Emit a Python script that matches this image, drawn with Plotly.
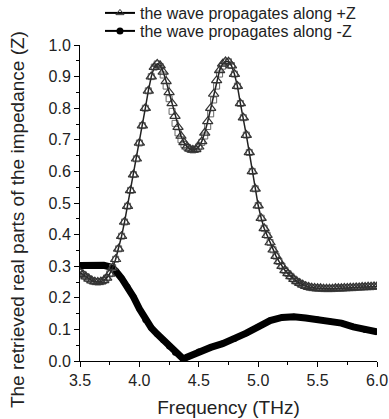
import plotly.graph_objects as go

# Frequency grid (THz) for the +Z retrieval
freq = [3.500, 3.525, 3.550, 3.575, 3.600, 3.625, 3.650, 3.675, 3.700, 3.725,
        3.750, 3.775, 3.800, 3.825, 3.850, 3.875, 3.900, 3.925, 3.950, 3.975,
        4.000, 4.025, 4.050, 4.075, 4.100, 4.125, 4.150, 4.175, 4.200, 4.225,
        4.250, 4.275, 4.300, 4.325, 4.350, 4.375, 4.400, 4.425, 4.450, 4.475,
        4.500, 4.525, 4.550, 4.575, 4.600, 4.625, 4.650, 4.675, 4.700, 4.725,
        4.750, 4.775, 4.800, 4.825, 4.850, 4.875, 4.900, 4.925, 4.950, 4.975,
        5.000, 5.025, 5.050, 5.075, 5.100, 5.125, 5.150, 5.175, 5.200, 5.225,
        5.250, 5.275, 5.300, 5.325, 5.350, 5.375, 5.400, 5.425, 5.450, 5.475,
        5.500, 5.525, 5.550, 5.575, 5.600, 5.625, 5.650, 5.675, 5.700, 5.725,
        5.750, 5.775, 5.800, 5.825, 5.850, 5.875, 5.900, 5.925, 5.950, 5.975,
        6.000]

# Re(Z), wave along +Z (triangles)
z_plus = [0.280, 0.274, 0.267, 0.260, 0.254, 0.251, 0.250, 0.251, 0.255, 0.263,
          0.276, 0.296, 0.322, 0.355, 0.395, 0.440, 0.490, 0.540, 0.590, 0.640,
          0.690, 0.745, 0.800, 0.855, 0.900, 0.930, 0.940, 0.935, 0.915, 0.885,
          0.850, 0.815, 0.775, 0.740, 0.712, 0.692, 0.678, 0.671, 0.668, 0.670,
          0.678, 0.695, 0.722, 0.758, 0.800, 0.845, 0.888, 0.920, 0.940, 0.948,
          0.947, 0.935, 0.908, 0.870, 0.815, 0.770, 0.715, 0.660, 0.600, 0.545,
          0.492, 0.452, 0.420, 0.398, 0.375, 0.352, 0.332, 0.315, 0.300, 0.287,
          0.277, 0.268, 0.259, 0.252, 0.246, 0.241, 0.237, 0.234, 0.232, 0.231,
          0.230, 0.230, 0.229, 0.229, 0.229, 0.229, 0.230, 0.230, 0.230, 0.231,
          0.231, 0.232, 0.232, 0.233, 0.233, 0.234, 0.234, 0.235, 0.235, 0.236,
          0.236]

# Companion square-marker trace seen inside the +Z band (not in legend)
z_plus_sq = [0.280, 0.274, 0.267, 0.260, 0.254, 0.251, 0.250, 0.251, 0.255, 0.263,
             0.276, 0.296, 0.322, 0.355, 0.395, 0.440, 0.490, 0.540, 0.590, 0.640,
             0.690, 0.745, 0.800, 0.855, 0.900, 0.930, 0.940, 0.932, 0.905, 0.870,
             0.830, 0.790, 0.752, 0.722, 0.700, 0.685, 0.675, 0.670, 0.668, 0.670,
             0.678, 0.692, 0.712, 0.742, 0.782, 0.826, 0.870, 0.908, 0.933, 0.946,
             0.947, 0.935, 0.908, 0.870, 0.815, 0.770, 0.715, 0.660, 0.600, 0.545,
             0.492, 0.452, 0.420, 0.398, 0.375, 0.352, 0.332, 0.315, 0.300, 0.287,
             0.277, 0.268, 0.259, 0.252, 0.246, 0.241, 0.237, 0.234, 0.232, 0.231,
             0.230, 0.230, 0.229, 0.229, 0.229, 0.229, 0.230, 0.230, 0.230, 0.231,
             0.231, 0.232, 0.232, 0.233, 0.233, 0.234, 0.234, 0.235, 0.235, 0.236,
             0.236]

# Re(Z), wave along -Z (thick black line)
freq_minus = [3.50, 3.60, 3.70, 3.75, 3.80, 3.85, 3.90, 3.95, 4.00, 4.05,
              4.10, 4.15, 4.20, 4.25, 4.30, 4.37, 4.40, 4.50, 4.60, 4.70,
              4.80, 4.90, 5.00, 5.10, 5.20, 5.30, 5.40, 5.50, 5.60, 5.70,
              5.80, 5.90, 6.00]
z_minus = [0.302, 0.304, 0.303, 0.298, 0.285, 0.262, 0.235, 0.203, 0.165, 0.130,
           0.105, 0.085, 0.066, 0.046, 0.026, 0.006, 0.012, 0.030, 0.043, 0.055,
           0.070, 0.088, 0.108, 0.128, 0.138, 0.140, 0.136, 0.131, 0.126, 0.120,
           0.108, 0.098, 0.092]

legend_plus = "the wave propagates along +Z"
legend_minus = "the wave propagates along -Z"
x_title = "Frequency (THz)"
y_title = "The retrieved real parts of the impedance (Z)"

FONT = "Liberation Sans, Arial, sans-serif"
fig = go.Figure()

fig.add_trace(go.Scatter(
    x=freq_minus, y=z_minus, mode="lines+markers", showlegend=False,
    line=dict(color="black", width=7),
    marker=dict(symbol="circle", size=6, color="black"),
))
fig.add_trace(go.Scatter(
    x=freq, y=z_plus_sq, mode="markers", showlegend=False,
    marker=dict(symbol="square-open", size=6, color="#666",
                line=dict(color="#666", width=1)),
))
fig.add_trace(go.Scatter(
    x=freq, y=z_plus, mode="lines+markers", showlegend=False,
    line=dict(color="#222", width=1.5),
    marker=dict(symbol="triangle-up-open", size=9, color="#333",
                line=dict(color="#333", width=1.2)),
))

# legend entries (one legend box per row for exact placement)
fig.add_trace(go.Scatter(
    x=[None], y=[None], mode="lines+markers", name=legend_plus, legend="legend",
    line=dict(color="black", width=2),
    marker=dict(symbol="triangle-up-open", size=7, color="#333"),
))
fig.add_trace(go.Scatter(
    x=[None], y=[None], mode="lines+markers", name=legend_minus, legend="legend2",
    line=dict(color="black", width=2),
    marker=dict(symbol="circle", size=7, color="black"),
))

leg_common = dict(xref="container", yref="container", x=0.257,
                  xanchor="left", yanchor="middle",
                  bgcolor="rgba(0,0,0,0)", font=dict(size=16, color="#222"),
                  itemwidth=30)

fig.update_layout(
    width=389, height=419,
    margin=dict(l=80, r=12, t=45, b=58, autoexpand=False),
    paper_bgcolor="white", plot_bgcolor="white",
    font=dict(family=FONT, size=16, color="#222"),
    legend=dict(y=1 - 13 / 419, **leg_common),
    legend2=dict(y=1 - 31 / 419, **leg_common),
    xaxis=dict(range=[3.5, 6.0], tickmode="linear", tick0=3.5, dtick=0.5,
               tickformat=".1f", ticks="outside", ticklen=5, tickcolor="black",
               showline=True, linecolor="black", linewidth=1, showgrid=False,
               zeroline=False, tickfont=dict(size=16), automargin=False,
               minor=dict(dtick=0.25, ticks="outside", ticklen=3, tickcolor="black"),
               title=dict(text=x_title, font=dict(size=19), standoff=12)),
    yaxis=dict(range=[0.0, 1.0], tickmode="linear", tick0=0, dtick=0.1,
               tickformat=".1f", ticks="outside", ticklen=5, tickcolor="black",
               showline=True, linecolor="black", linewidth=1, showgrid=False,
               zeroline=False, tickfont=dict(size=16), automargin=False,
               minor=dict(dtick=0.05, ticks="outside", ticklen=3, tickcolor="black")),
    annotations=[dict(text=y_title, textangle=-90, xref="paper", yref="paper",
                      x=-0.212, y=0.446, xanchor="center", yanchor="middle",
                      showarrow=False, font=dict(size=19, family=FONT, color="#222"))],
)

fig.write_html("out.html")
